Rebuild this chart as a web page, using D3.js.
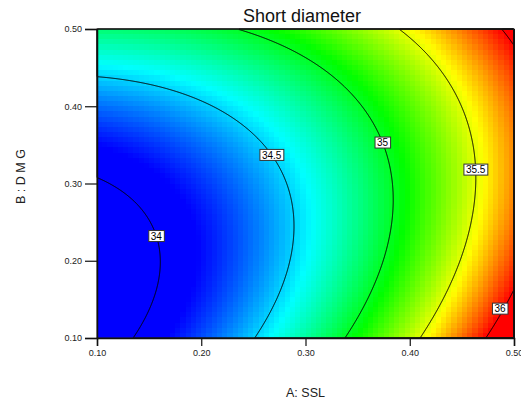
<!DOCTYPE html>
<html>
<head>
<meta charset="utf-8">
<script src="https://cdn.jsdelivr.net/npm/d3@7"></script>
<style>
  body { margin: 0; background: #fff; }
  text { font-family: 'Liberation Sans', Arial, sans-serif; fill: #222; }
</style>
</head>
<body>
<svg id="chart" width="521" height="407"></svg>
<script>
'use strict';

// chart data
var title = 'Short diameter';
var xTitle = 'A: SSL';
var yTitle = 'B : D M G';
var xTicks = [0.10, 0.20, 0.30, 0.40, 0.50];
var yTicks = [0.10, 0.20, 0.30, 0.40, 0.50];
var levels = [34, 34.5, 35, 35.5, 36];
// B value where each contour label sits
var labelB = [0.232, 0.337, 0.353, 0.318, 0.138];
// quadratic model in coded units: 1, A, B, A^2, B^2, AB
var modelCoef = [34.578, 0.890, 0.200, 0.293, 0.390, -0.281];
// response values at blue, cyan, green, yellow, red
var colorStops = [34.12, 34.58, 35.07, 35.55, 36.0];

var margin = {left: 97, top: 29};
var width = 417, height = 309;

var svg = d3.select('#chart');

var x = d3.scaleLinear().domain([0.1, 0.5]).range([0, width]);
var y = d3.scaleLinear().domain([0.1, 0.5]).range([height, 0]);
var color = d3.scaleLinear().domain(colorStops)
  .range(['#0000ff', '#00ffff', '#00ff00', '#ffff00', '#ff0000']).clamp(true);

function response(a, b){
  var u = (a - 0.3) / 0.2, v = (b - 0.3) / 0.2;
  var c = modelCoef;
  return c[0] + c[1] * u + c[2] * v + c[3] * u * u + c[4] * v * v + c[5] * u * v;
}

var g = svg.append('g').attr('transform', 'translate(' + margin.left + ',' + margin.top + ')');

// shaded cells
var nCol = 80, nRow = 60;
var cells = [];
for (var j = 0; j < nRow; j++) {
  for (var i = 0; i < nCol; i++) cells.push({i: i, j: j});
}
var cw = width / nCol, ch = height / nRow;
g.append('g')
  .attr('shape-rendering', 'crispEdges')
  .selectAll('rect')
  .data(cells)
  .enter().append('rect')
  .attr('x', function(d){ return d.i * cw; })
  .attr('y', function(d){ return d.j * ch; })
  .attr('width', cw + 0.6)
  .attr('height', ch + 0.6)
  .attr('fill', function(d){
    return color(response(x.invert((d.i + 0.5) * cw), y.invert((d.j + 0.5) * ch)));
  });

// contour lines
var values = new Array(width * height);
for (var r = 0; r < height; r++) {
  for (var k = 0; k < width; k++) values[r * width + k] = response(x.invert(k + 0.5), y.invert(r + 0.5));
}
var contours = d3.contours().size([width, height]).thresholds(levels)(values);
g.append('g').selectAll('path')
  .data(contours)
  .enter().append('path')
  .attr('d', d3.geoPath())
  .attr('fill', 'none')
  .attr('stroke', '#000')
  .attr('stroke-width', 1);

// contour labels, placed where the contour crosses B = labelB
function findA(level, b){
  var lo = 0.1, hi = 0.5;
  for (var n = 0; n < 40; n++) {
    var mid = (lo + hi) / 2;
    if (response(mid, b) < level) lo = mid; else hi = mid;
  }
  return (lo + hi) / 2;
}
var labels = g.append('g').selectAll('g')
  .data(levels)
  .enter().append('g')
  .attr('transform', function(d, i){
    var px = Math.min(x(findA(d, labelB[i])), width - 14);
    return 'translate(' + px + ',' + y(labelB[i]) + ')';
  });
labels.append('text')
  .attr('text-anchor', 'middle')
  .attr('dy', '0.36em')
  .attr('font-size', 10)
  .style('fill', '#000')
  .text(function(d){ return d; })
  .each(function(){
    var bb = this.getBBox();
    d3.select(this.parentNode).insert('rect', 'text')
      .attr('x', bb.x - 2).attr('y', -5.5)
      .attr('width', bb.width + 4).attr('height', 11)
      .attr('fill', '#fff').attr('stroke', '#333').attr('stroke-width', 1);
  });

// frame
g.append('rect')
  .attr('width', width).attr('height', height)
  .attr('fill', 'none').attr('stroke', '#222').attr('stroke-width', 1);

// axes
var xAxis = d3.axisBottom(x).tickValues(xTicks).tickFormat(d3.format('.2f')).tickSize(8).tickPadding(4);
var yAxis = d3.axisLeft(y).tickValues(yTicks).tickFormat(d3.format('.2f')).tickSize(12).tickPadding(3);

var gx = g.append('g').attr('transform', 'translate(0,' + height + ')').call(xAxis);
var gy = g.append('g').call(yAxis);
[gx, gy].forEach(function(ax){
  ax.select('.domain').attr('stroke', '#111').attr('stroke-width', 1.5);
  ax.selectAll('.tick line').attr('stroke', '#111').attr('stroke-width', 1.2);
  ax.selectAll('.tick text').attr('font-size', 9).attr('font-family', null).style('fill', '#222');
});

// titles
svg.append('text')
  .attr('x', 302).attr('y', 21.5)
  .attr('text-anchor', 'middle')
  .attr('font-size', 18)
  .style('fill', '#111')
  .text(title);

svg.append('text')
  .attr('x', margin.left + width / 2).attr('y', 397)
  .attr('text-anchor', 'middle')
  .attr('font-size', 12.5)
  .text(xTitle);

svg.append('text')
  .attr('transform', 'translate(24.5,' + (margin.top + height / 2 - 7) + ') rotate(-90)')
  .attr('text-anchor', 'middle')
  .attr('font-size', 12.5)
  .text(yTitle);
</script>
</body>
</html>
